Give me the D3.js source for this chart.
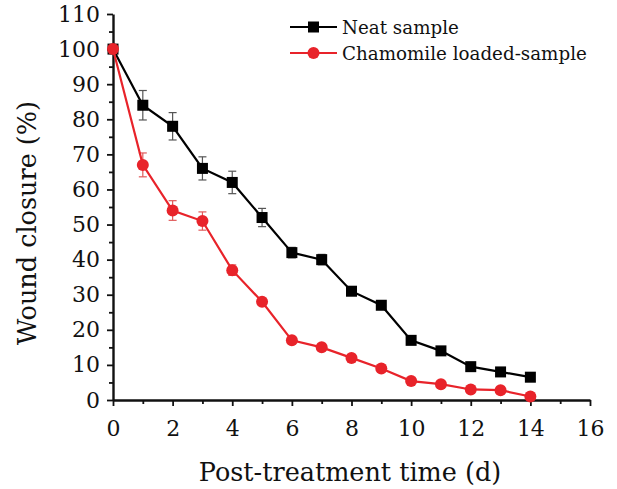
<!DOCTYPE html>
<html>
<head>
<meta charset="utf-8">
<script src="https://cdn.jsdelivr.net/npm/d3@7"></script>
<style>
  body { margin: 0; background: #fff; }
  svg text { font-family: "DejaVu Serif", "Liberation Serif", serif; fill: #111; }
</style>
</head>
<body>
<svg id="chart" width="617" height="489"></svg>
<script>
// days after treatment
var days = [0, 1, 2, 3, 4, 5, 6, 7, 8, 9, 10, 11, 12, 13, 14];
var neatVals = [100, 84, 78, 66, 62, 52, 42, 40, 31, 27, 17, 14, 9.5, 8, 6.5];
var neatErr = [0, 4.2, 3.9, 3.3, 3.2, 2.6, 1.5, 1.5, 1, 0.5, 0.5, 0.5, 0.5, 0.5, 0.5];
var chamVals = [100, 67, 54, 51, 37, 28, 17, 15, 12, 9, 5.4, 4.5, 3, 2.8, 1];
var chamErr = [0, 3.4, 2.8, 2.6, 1.5, 0.5, 0.5, 0.5, 0.5, 0.5, 0.5, 0.5, 0.5, 0.5, 0.5];
var seriesNames = ['Neat sample', 'Chamomile loaded-sample'];
var xTicks = [0, 2, 4, 6, 8, 10, 12, 14, 16];
var yTicks = [0, 10, 20, 30, 40, 50, 60, 70, 80, 90, 100, 110];

var svg = d3.select('#chart');
var margins = { left: 113, top: 14, right: 27, bottom: 89 };
var width = 617 - margins.left - margins.right;
var height = 489 - margins.top - margins.bottom;

var xScale = d3.scaleLinear().domain([0, 16]).range([0, width]);
var yScale = d3.scaleLinear().domain([0, 110]).range([height, 0]);

var viewport = svg.append('g')
  .attr('transform', 'translate(' + margins.left + ', ' + margins.top + ')');

// minor ticks first, then the major axes on top
viewport.append('g')
  .attr('transform', 'translate(0,' + height + ')')
  .call(d3.axisBottom(xScale).tickValues(d3.range(1, 16, 2)).tickSize(4).tickFormat(''))
  .call(function(g) { g.select('.domain').remove(); });
viewport.append('g')
  .call(d3.axisLeft(yScale).tickValues(d3.range(5, 110, 10)).tickSize(4).tickFormat(''))
  .call(function(g) { g.select('.domain').remove(); });

var xAxis = viewport.append('g')
  .attr('transform', 'translate(0,' + height + ')')
  .call(d3.axisBottom(xScale).tickValues(xTicks).tickSize(6).tickPadding(14).tickSizeOuter(0));
var yAxis = viewport.append('g')
  .call(d3.axisLeft(yScale).tickValues(yTicks).tickSize(6).tickPadding(7).tickSizeOuter(0));

[xAxis, yAxis].forEach(function(ax) {
  ax.select('.domain').attr('stroke', '#111').attr('stroke-width', 2.4);
  ax.selectAll('.tick text').style('font-size', '22px').attr('fill', '#111');
});
viewport.selectAll('.tick line').attr('stroke', '#111').attr('stroke-width', 1.8);

var series = [
  { name: seriesNames[0], vals: neatVals, err: neatErr, color: '#000000', shape: 'square' },
  { name: seriesNames[1], vals: chamVals, err: chamErr, color: '#e8232a', shape: 'circle' }
];

series.forEach(function(s) {
  var items = days.map(function(d, i) { return { x: d, y: s.vals[i], e: s.err[i] }; });
  var g = viewport.append('g');

  // error bars
  var eb = g.selectAll('.err').data(items.filter(function(d) { return d.e > 0; })).enter()
    .append('g').attr('class', 'err')
    .attr('stroke', s.shape === 'square' ? '#555' : '#e05a5a').attr('stroke-width', 1.2);
  eb.append('line')
    .attr('x1', function(d) { return xScale(d.x); }).attr('x2', function(d) { return xScale(d.x); })
    .attr('y1', function(d) { return yScale(d.y + d.e); }).attr('y2', function(d) { return yScale(d.y - d.e); });
  eb.append('line')
    .attr('x1', function(d) { return xScale(d.x) - 4; }).attr('x2', function(d) { return xScale(d.x) + 4; })
    .attr('y1', function(d) { return yScale(d.y + d.e); }).attr('y2', function(d) { return yScale(d.y + d.e); });
  eb.append('line')
    .attr('x1', function(d) { return xScale(d.x) - 4; }).attr('x2', function(d) { return xScale(d.x) + 4; })
    .attr('y1', function(d) { return yScale(d.y - d.e); }).attr('y2', function(d) { return yScale(d.y - d.e); });

  g.append('path')
    .datum(items)
    .attr('fill', 'none')
    .attr('stroke', s.color)
    .attr('stroke-width', 2.2)
    .attr('d', d3.line().x(function(d) { return xScale(d.x); }).y(function(d) { return yScale(d.y); }));

  if (s.shape === 'square') {
    g.selectAll('rect').data(items).enter().append('rect')
      .attr('x', function(d) { return xScale(d.x) - 5.5; })
      .attr('y', function(d) { return yScale(d.y) - 5.5; })
      .attr('width', 11).attr('height', 11)
      .attr('fill', s.color);
  } else {
    g.selectAll('circle').data(items).enter().append('circle')
      .attr('cx', function(d) { return xScale(d.x); })
      .attr('cy', function(d) { return yScale(d.y); })
      .attr('r', 6)
      .attr('fill', s.color);
  }
});

// legend
var legend = svg.append('g').attr('transform', 'translate(290, 27)');
series.forEach(function(s, i) {
  var row = legend.append('g').attr('transform', 'translate(0,' + (i * 26) + ')');
  row.append('line').attr('x1', 0).attr('x2', 47).attr('y1', 0).attr('y2', 0)
    .attr('stroke', s.color).attr('stroke-width', 2.2);
  if (s.shape === 'square') {
    row.append('rect').attr('x', 18).attr('y', -5.5).attr('width', 11).attr('height', 11).attr('fill', s.color);
  } else {
    row.append('circle').attr('cx', 23.5).attr('cy', 0).attr('r', 6).attr('fill', s.color);
  }
  row.append('text').attr('x', 52).attr('y', 7)
    .style('font-size', '18.3px')
    .text(s.name);
});

// axis titles
svg.append('text')
  .attr('x', 350).attr('y', 481)
  .attr('text-anchor', 'middle')
  .style('font-size', '25.5px')
  .text('Post-treatment time (d)');
svg.append('text')
  .attr('transform', 'translate(36,223) rotate(-90)')
  .attr('text-anchor', 'middle')
  .style('font-size', '25.5px')
  .text('Wound closure (%)');
</script>
</body>
</html>
